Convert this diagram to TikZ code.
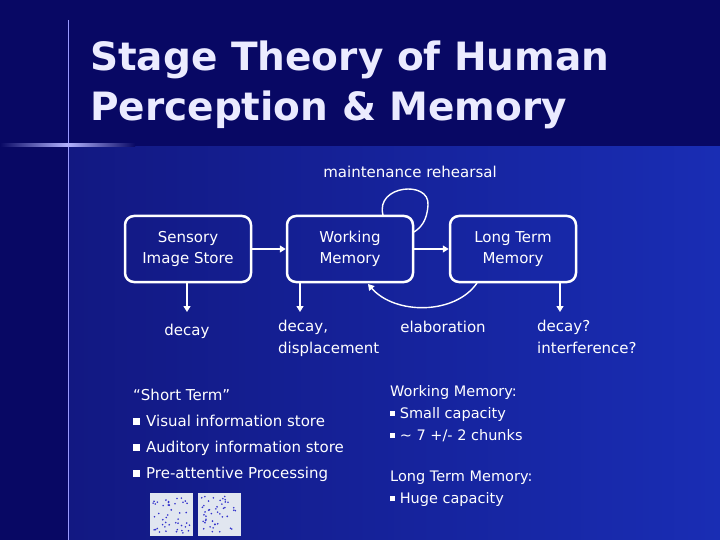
\documentclass[tikz,border=0pt]{standalone}
\usepackage{fontspec}
\setmainfont{DejaVu Sans}
\usetikzlibrary{positioning,arrows.meta}
\definecolor{navy}{RGB}{8,8,100}
\definecolor{deepblue}{RGB}{18,24,130}
\definecolor{brightblue}{RGB}{25,45,180}
\definecolor{thumbbg}{RGB}{225,230,240}
\newcommand{\bigsq}{\raisebox{1.5pt}{\rule{7pt}{7pt}}}
\newcommand{\smallsq}{\raisebox{2.5pt}{\rule{5pt}{5pt}}}
\tikzset{
    stagebox/.style={draw=white, line width=2.5pt, rounded corners=9pt, minimum width=126pt,
        minimum height=66pt, align=center, text=white, font=\fontsize{15}{21}\selectfont},
    lbl/.style={text=white, font=\fontsize{15}{22}\selectfont, align=left, inner sep=0pt},
    flow/.style={draw=white, line width=1.4pt, -{Triangle[length=6pt,width=7pt]}},
}
\begin{document}
\begin{tikzpicture}[x=1pt, y=-1pt]
    % background
    \useasboundingbox (0,0) rectangle (720,540);
    \fill[navy] (0,0) rectangle (720,540);
    \shade[left color=deepblue, right color=brightblue] (68,147) rectangle (720,540);
    \draw[white!60!blue, line width=0.8pt] (68,20) -- (68,540);
    \shade[left color=navy, right color=navy, middle color=white!70!blue] (0,144) rectangle (135,146.5);
    % title
    \node[anchor=west, text=white!92!blue, align=left, font=\bfseries\fontsize{39}{50}\selectfont, inner sep=0pt] (title) at (90,85)
        {Stage Theory of Human\\Perception \& Memory};
    % stages
    \node[stagebox] (sensory) at (188,249) {Sensory\\Image Store};
    \node[stagebox] (working) at (350,249) {Working\\Memory};
    \node[stagebox] (longterm) at (513,249) {Long Term\\Memory};
    \draw[flow] (sensory) -- (working);
    \draw[flow] (working) -- (longterm);
    % loops
    \node[lbl, anchor=center] (rehearsal) at (410,172) {maintenance rehearsal};
    \draw[white, line width=1.4pt] (383,215) .. controls (375,185) and (430,180) .. (428,205)
        .. controls (427,222) and (420,228) .. (414,232);
    \draw[flow] (477,283) .. controls (455,315) and (395,315) .. (368,284);
    \node[lbl, anchor=center] (elab) at (443,327) {elaboration};
    % decay
    \coordinate (d1) at (187,312);
    \coordinate (d2) at (300,312);
    \coordinate (d3) at (560,312);
    \draw[flow] (sensory.south -| d1) -- (d1);
    \draw[flow] (working.south -| d2) -- (d2);
    \draw[flow] (longterm.south -| d3) -- (d3);
    \node[lbl, anchor=center] (decay1) at (187,331) {decay};
    \node[lbl, anchor=north west] (decay2) at (278,320) {decay,\\displacement};
    \node[lbl, anchor=north west] (decay3) at (537,320) {decay?\\interference?};
    % short term
    \node[lbl, anchor=north west, font=\fontsize{15}{26}\selectfont] (shortterm) at (133,389)
        {“Short Term”\\
         \bigsq\hspace{6pt}Visual information store\\
         \bigsq\hspace{6pt}Auditory information store\\
         \bigsq\hspace{6pt}Pre-attentive Processing};
    \node[lbl, anchor=north west, font=\fontsize{14.5}{22}\selectfont] (wmnote) at (390,385)
        {Working Memory:\\ \smallsq\ Small capacity\\
         \smallsq\ \textasciitilde{} 7 +/- 2 chunks};
    \node[lbl, anchor=north west, font=\fontsize{14.5}{22}\selectfont] (ltnote) at (390,471)
        {Long Term Memory:\\ \smallsq\ Huge capacity};
    % thumbnails
    \pgfmathsetseed{7}
    \foreach \x in {150,198} {
        \fill[thumbbg] (\x,493) rectangle (\x+43,536);
        \foreach \i in {1,...,45} {
            \pgfmathsetmacro{\px}{\x+3+37*rnd}
            \pgfmathsetmacro{\py}{496+37*rnd}
            \fill[blue!60!gray] (\px,\py) circle (0.9pt);
        }
    }
\end{tikzpicture}
\end{document}
